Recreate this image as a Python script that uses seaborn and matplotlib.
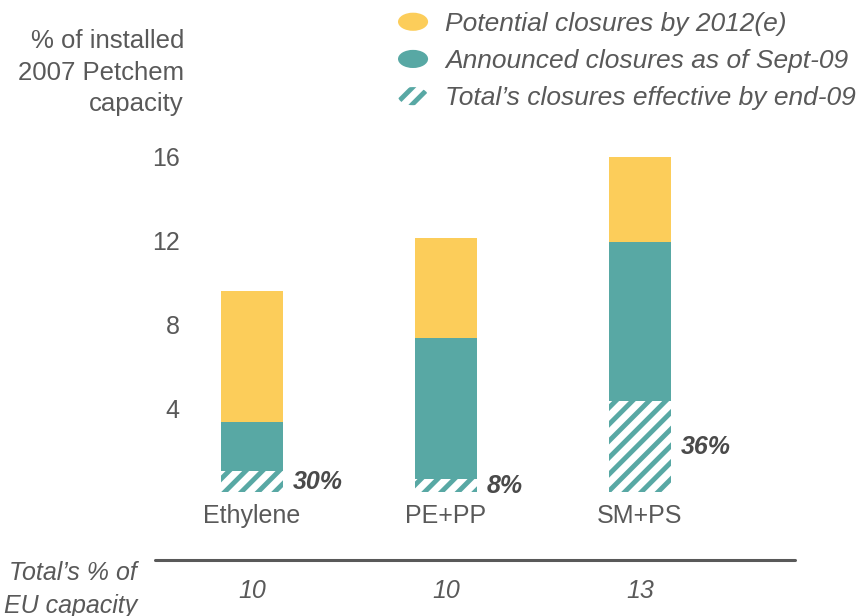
import matplotlib
matplotlib.use("Agg")
import matplotlib.pyplot as plt
import seaborn as sns
import pandas as pd
from matplotlib.patches import Patch, Ellipse
from matplotlib.legend_handler import HandlerPatch
from matplotlib.lines import Line2D

# data
units = ["Ethylene", "PE+PP", "SM+PS"]
potential = [9.6, 12.15, 16.0]      # top of yellow bar (cumulative)
announced = [3.35, 7.35, 11.95]     # top of teal bar
total_eff = [1.0, 0.62, 4.33]       # hatched part
total_pct = ["30%", "8%", "36%"]
eu_share = ["10", "10", "13"]

yellow = "#FCCD5A"
teal = "#58A8A4"
grey = "#595959"

sns.set_style("white")
plt.rcParams["font.family"] = ["Liberation Sans", "DejaVu Sans"]
plt.rcParams["hatch.linewidth"] = 3.5
plt.rcParams["hatch.color"] = teal

df = pd.DataFrame({"unit": units, "potential": potential,
                   "announced": announced, "total": total_eff})

fig = plt.figure(figsize=(8.62, 6.16), dpi=100)
ax = fig.add_axes([0.2135, 0.2013, 0.6415, 0.5609])

sns.barplot(data=df, x="unit", y="potential", color=yellow, saturation=1,
            width=0.32, ax=ax, linewidth=0)
sns.barplot(data=df, x="unit", y="announced", color=teal, saturation=1,
            width=0.32, ax=ax, linewidth=0)
sns.barplot(data=df, x="unit", y="total", color="white", saturation=1,
            width=0.32, ax=ax, linewidth=0, edgecolor=teal, hatch="//")

ax.set_xlim(-0.35, 2.5)
ax.set_ylim(0, 16.5)
ax.set_yticks([4, 8, 12, 16])
ax.set_xlabel("")
ax.set_ylabel("")
sns.despine(ax=ax, left=True, bottom=True)
ax.tick_params(axis="both", length=0, labelsize=18, colors=grey)
ax.tick_params(axis="y", pad=3)
ax.tick_params(axis="x", pad=9)

# percentage of announced closures done by Total
for i, (v, lab) in enumerate(zip(total_eff, total_pct)):
    ax.annotate(lab, (i + 0.16, v / 2), xytext=(7, 0), textcoords="offset points",
                ha="left", va="center", fontsize=18, fontweight="bold",
                fontstyle="italic", color="#4a4a4a")

# y label, right aligned above the ticks
for yy, line in zip([41, 73.5, 104], ["% of installed", "2007 Petchem", "capacity"]):
    fig.text(184 / 862, 1 - yy / 616, line, ha="right", va="center",
             fontsize=18.5, color=grey)

# bottom row: Total's share of EU capacity
fig.add_artist(Line2D([155 / 862, 795 / 862], [1 - 560 / 616, 1 - 560 / 616],
                      color=grey, lw=2.2))
for yy, line in zip([573, 606], ["Total\u2019s % of", "EU capacity"]):
    fig.text(137 / 862, 1 - yy / 616, line, ha="right", va="center",
             fontsize=18, fontstyle="italic", color=grey)
trans = matplotlib.transforms.blended_transform_factory(ax.transData, fig.transFigure)
for i, s in enumerate(eu_share):
    ax.text(i, 1 - 591 / 616, s, transform=trans, ha="center", va="center",
            fontsize=18, fontstyle="italic", color=grey)


class EllipseHandler(HandlerPatch):
    def create_artists(self, legend, orig_handle, xdescent, ydescent,
                       width, height, fontsize, trans):
        e = Ellipse((width / 2 - xdescent, height / 2 - ydescent), width, height)
        self.update_prop(e, orig_handle, legend)
        e.set_transform(trans)
        return [e]


handles = [Patch(facecolor=yellow, linewidth=0),
           Patch(facecolor=teal, linewidth=0),
           Patch(facecolor="white", edgecolor=teal, hatch="//", linewidth=0)]
labels = ["Potential closures by 2012(e)", "Announced closures as of Sept-09",
          "Total\u2019s closures effective by end-09"]
fig.legend(handles, labels, handler_map={Patch: EllipseHandler()},
           loc="upper left", bbox_to_anchor=(398 / 862, 1 - 12 / 616),
           frameon=False, borderpad=0, borderaxespad=0,
           handlelength=1.14, handleheight=0.68, handletextpad=0.64,
           labelspacing=0.5, labelcolor=grey,
           prop={"size": 19, "style": "italic"})

fig.savefig("out.png", dpi=100)
